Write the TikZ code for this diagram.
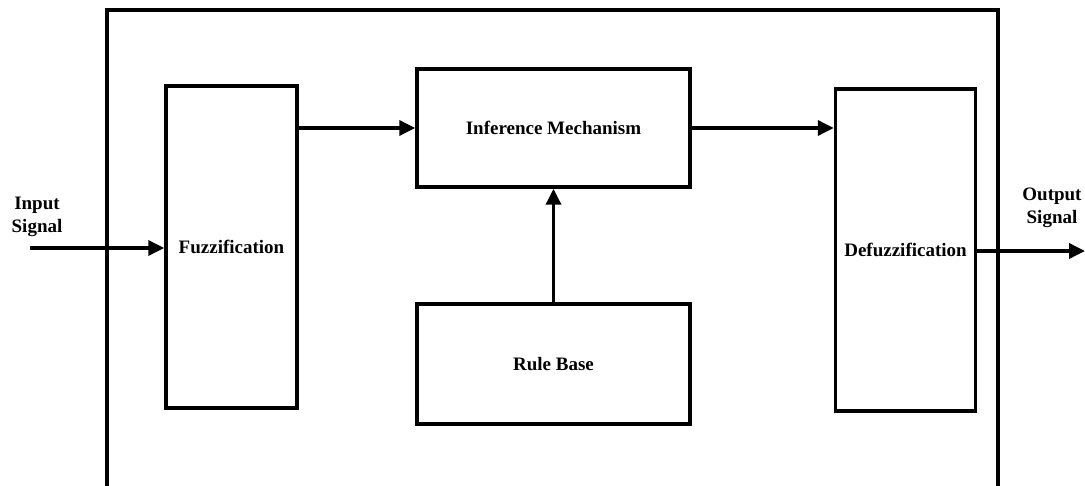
\documentclass[tikz,border=0pt]{standalone}
\usepackage{fontspec}
\setmainfont{Liberation Serif}
\usetikzlibrary{arrows.meta}
\begin{document}
\begin{tikzpicture}[x=1pt,y=-1pt,
  blk/.style={draw,line width=3.5pt,font=\bfseries\fontsize{19}{22}\selectfont},
  lbl/.style={font=\bfseries\fontsize{19}{23}\selectfont,align=center},
  arr/.style={line width=3.5pt,-{Triangle[length=16pt,width=15pt]}}]
\useasboundingbox (0,0) rectangle (1085,486);
\draw[line width=3.5pt] (107,490) -- (107,10) -- (998,10) -- (998,490);
\node[blk,minimum width=131pt,minimum height=322pt] (fuz) at (231.5,247) {Fuzzification};
\node[blk,minimum width=273pt,minimum height=118pt] (inf) at (553.5,128) {Inference Mechanism};
\node[blk,minimum width=273pt,minimum height=120pt] (rb) at (553.5,364) {Rule Base};
\node[blk,minimum width=140pt,minimum height=322pt,inner sep=1pt] (def) at (905.5,250) {Defuzzification};
\node[lbl] (in) at (37,217) {Input\\Signal};
\node[lbl] (out) at (1052,208) {Output\\Signal};
\coordinate (inS) at (30,248);
\coordinate (outE) at (1085,251);
\draw[arr] (inS) -- (inS -| fuz.west);
\draw[arr] (fuz.east |- inf) -- (inf.west);
\draw[arr] (inf.east) -- (inf.east -| def.west);
\draw[arr] (rb.north) -- (inf.south);
\draw[arr] (def.east |- outE) -- (outE);
\end{tikzpicture}
\end{document}
